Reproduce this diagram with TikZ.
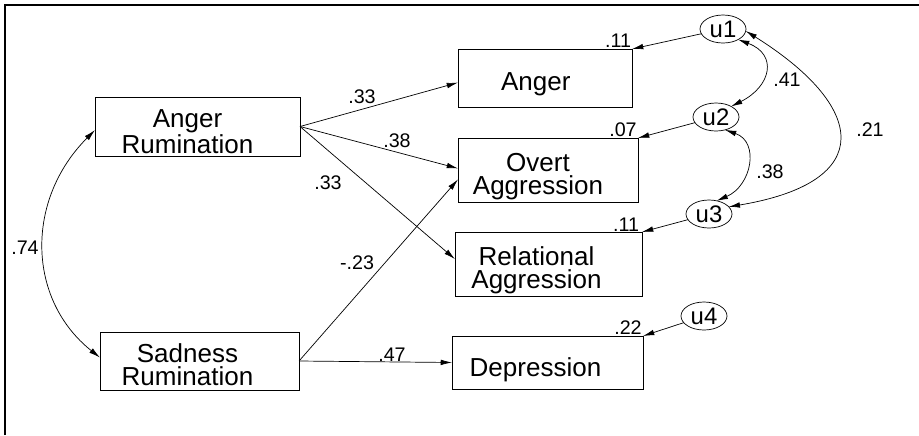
\documentclass[tikz,border=0pt]{standalone}
\usepackage{fontspec}
\setmainfont{Liberation Sans}
\usetikzlibrary{arrows.meta,shapes.geometric}

\begin{document}
\begin{tikzpicture}[x=0.025cm,y=-0.025cm]
   \tikzstyle{var} = [draw, line width=0.5pt, inner sep=0pt, outer sep=0pt]
   \tikzstyle{vartext} = [align=center, inner sep=0pt, font=\fontsize{18.5}{16.5}\selectfont]
   \tikzstyle{err} = [draw, ellipse, line width=0.5pt, inner sep=0pt, outer sep=0pt, minimum width=1.15cm, minimum height=0.7cm, font=\fontsize{17}{17}\selectfont]
   \tikzstyle{coef} = [inner sep=0pt, font=\fontsize{14}{14}\selectfont]
   \tikzstyle{line} = [draw, line width=0.5pt, -{Latex[length=8pt,width=4pt]}]
   \tikzstyle{cov} = [draw, line width=0.5pt, {Latex[length=8pt,width=4pt]}-{Latex[length=8pt,width=4pt]}]

   \useasboundingbox (0,0) rectangle (919,435);
   \draw [line width=1.2pt] (5,435) -- (5,5) -- (919,5);

   % observed variables
   \node [var, minimum width=5.125cm, minimum height=1.475cm,
      label={[vartext, name=art, shift={(-0.25cm,-0.13cm)}]center:Anger\\Rumination}] (ar) at (197.5,126.5) {};
   \node [var, minimum width=4.975cm, minimum height=1.45cm,
      label={[vartext, name=srt, shift={(-0.3cm,-0.1cm)}]center:Sadness\\Rumination}] (sr) at (199.5,361) {};
   \node [var, minimum width=4.35cm, minimum height=1.45cm,
      label={[vartext, name=angert, shift={(-0.23cm,-0.16cm)}]center:Anger}] (anger) at (545,78) {};
   \node [var, minimum width=4.5cm, minimum height=1.6cm,
      label={[vartext, name=overtt, shift={(-0.25cm,-0.16cm)}]center:Overt\\Aggression}] (overt) at (548,170) {};
   \node [var, minimum width=4.675cm, minimum height=1.6cm,
      label={[vartext, name=relt, shift={(-0.3cm,-0.15cm)}]center:Relational\\Aggression}] (rel) at (548.5,264) {};
   \node [var, minimum width=4.775cm, minimum height=1.325cm,
      label={[vartext, name=dept, shift={(-0.3cm,-0.18cm)}]center:Depression}] (dep) at (547.5,362.5) {};

   % residuals
   \node [err] (u1) at (723,29) {u1};
   \node [err] (u2) at (716,117) {u2};
   \node [err] (u3) at (709,214) {u3};
   \node [err] (u4) at (704,316) {u4};

   % paths
   \draw [line] (ar.east) -- (anger.183);
   \draw [line] (ar.east) -- (overt.179);
   \draw [line] (ar.east) -- (rel.177);
   \draw [line] (sr.east) -- (overt.186);
   \draw [line] (sr.east) -- (dep.west);

   \draw [line] (u1) -- (anger.north east);
   \draw [line] (u2) -- (overt.north east);
   \draw [line] (u3) -- (rel.north east);
   \draw [line] (u4) -- (dep.north east);

   % covariances
   \path [cov] (ar.182) .. controls +(-70,70) and +(-73,-58) .. (sr.178);
   \path [cov] (u1.-35) .. controls +(40,15) and +(40,-20) .. (u2.35);
   \path [cov] (u2.-55) .. controls +(35,12) and +(35,-15) .. (u3.60);
   \path [cov] (u1.-5) .. controls +(120,75) and +(150,-25) .. (u3.20);

   % coefficients
   \node [coef] (c1) at (362,97) {.33};
   \node [coef] (c2) at (397,141) {.38};
   \node [coef] (c3) at (328,183) {.33};
   \node [coef] (c4) at (357,263) {-.23};
   \node [coef] (c5) at (392,355) {.47};
   \node [coef] (c6) at (25,248) {.74};
   \node [coef] (r1) at (618,41) {.11};
   \node [coef] (r2) at (623,130) {.07};
   \node [coef] (r3) at (626,225) {.11};
   \node [coef] (r4) at (628,328) {.22};
   \node [coef] (c7) at (787,80) {.41};
   \node [coef] (c8) at (770,172) {.38};
   \node [coef] (c9) at (870,130) {.21};
\end{tikzpicture}
\end{document}
